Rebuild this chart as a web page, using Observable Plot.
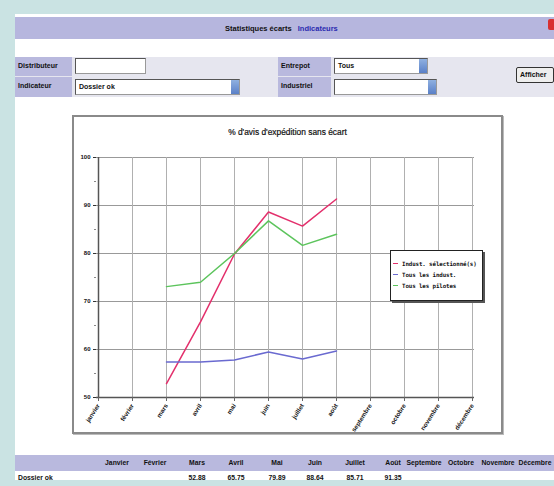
<!DOCTYPE html>
<html><head><meta charset="utf-8">
<script src="https://cdn.jsdelivr.net/npm/d3@7"></script>
<script src="https://cdn.jsdelivr.net/npm/@observablehq/plot@0.6"></script>
<style>
body{margin:0;width:554px;height:486px;background:#cae3e3;overflow:hidden;position:relative;font-family:"Liberation Sans",Arial,sans-serif;font-weight:bold;font-size:7px;color:#111;}
div{box-sizing:border-box;}
.a{position:absolute;}
.lab{background:#b9b9de;padding-left:3px;line-height:18px;}
.inp{background:#fff;border:1px solid #999;border-top-color:#555;border-left-color:#555;line-height:14px;padding-left:3px;font-weight:bold;}
.arr{position:absolute;right:0;top:0;width:8px;height:100%;background:linear-gradient(#8fb0e0,#5a80c8);}
.cell{position:absolute;text-align:center;width:40px;margin-left:-20px;font-size:6.8px;}
.leg{display:flex;align-items:center;height:11px;font-family:"DejaVu Sans Mono",monospace;font-size:5.8px;font-weight:bold;letter-spacing:-0.1px;}
.leg span.k{display:inline-block;width:5px;height:1.5px;margin:0 4px 0 2px;}
</style></head>
<body>
<div id="root"></div>
<script>
// ---- data ----
const months = ["janvier","février","mars","avril","mai","juin","juillet","août","septembre","octobre","novembre","décembre"];
const tableMonths = ["Janvier","Février","Mars","Avril","Mai","Juin","Juillet","Août","Septembre","Octobre","Novembre","Décembre"];
const seriesNames = ["Indust. sélectionné(s)","Tous les indust.","Tous les pilotes"];
const seriesColors = ["#e3306c","#6a6ad0","#5cc45c"];
const selectedIndust = [null,null,52.88,65.75,79.89,88.64,85.71,91.35,null,null,null,null];
const allIndust      = [null,null,57.4,57.4,57.8,59.5,58.0,59.7,null,null,null,null];
const allPilots      = [null,null,73.1,74.0,80.0,86.8,81.7,84.0,null,null,null,null];
const yTicks = [50,60,70,80,90,100];
const yMinor = [55,65,75,85,95];
const indicator = "Dossier ok";
const chartTitle = "% d'avis d'expédition sans écart";

const seriesValues = [selectedIndust, allIndust, allPilots];
const rows = [];
seriesValues.forEach((vals, s) => vals.forEach((v, i) => { if (v != null) rows.push({month: months[i], value: v, series: seriesNames[s]}); }));

const body = document.body;
function el(html){ const t=document.createElement("div"); t.innerHTML=html; const n=t.firstElementChild; body.appendChild(n); return n; }

// page white area
el(`<div class="a" style="left:15px;top:14px;width:539px;height:466px;background:#fff"></div>`);
// title bar
el(`<div class="a" style="left:15px;top:17px;width:539px;height:22px;background:#b6b6de"></div>`);
el(`<div class="a" style="left:225px;top:24px;font-size:7.5px">Statistiques écarts <span style="color:#2a2ab0;margin-left:4px">Indicateurs</span></div>`);
el(`<div class="a" style="left:548px;top:19px;width:7px;height:11px;background:#d83030;border-radius:2px"></div>`);
// form rows
el(`<div class="a" style="left:15px;top:57px;width:539px;height:40px;background:#e6e6ef"></div>`);
el(`<div class="a lab" style="left:15px;top:57px;width:57px;height:19px">Distributeur</div>`);
el(`<div class="a lab" style="left:15px;top:77px;width:57px;height:20px">Indicateur</div>`);
el(`<div class="a inp" style="left:75px;top:58px;width:71px;height:16px"></div>`);
el(`<div class="a inp" style="left:75px;top:79px;width:165px;height:16px">${indicator}<div class="arr"></div></div>`);
el(`<div class="a lab" style="left:278px;top:57px;width:53px;height:19px">Entrepot</div>`);
el(`<div class="a lab" style="left:278px;top:77px;width:53px;height:20px">Industriel</div>`);
el(`<div class="a inp" style="left:334px;top:58px;width:94px;height:16px">Tous<div class="arr"></div></div>`);
el(`<div class="a inp" style="left:334px;top:79px;width:103px;height:16px"><div class="arr"></div></div>`);
el(`<div class="a" style="left:516px;top:67px;width:38px;height:16px;border:1px solid #333;border-radius:2px;background:#eee;line-height:13px;padding-left:3px;font-size:7px">Afficher</div>`);

// chart box
const box = el(`<div class="a" style="left:72px;top:115px;width:431px;height:319px;border:2px solid #8a8a8a;background:#fff;box-shadow:1px 1px 0 #bbb"></div>`);
el(`<div class="a" style="left:72px;top:127px;width:431px;text-align:center;font-size:8.4px;font-weight:normal;color:#111;-webkit-text-stroke:0.2px #111">${chartTitle}</div>`);

const plot = Plot.plot({
  width: 427, height: 315,
  marginLeft: 22, marginRight: 27, marginTop: 40, marginBottom: 35,
  style: {fontFamily: "Liberation Sans, Arial, sans-serif", fontSize: "6px", fontWeight: "bold", background: "transparent", overflow: "visible"},
  x: {type: "point", domain: months, padding: 0},
  y: {domain: [50, 100]},
  color: {domain: seriesNames, range: seriesColors},
  marks: [
    Plot.gridY(yTicks, {stroke: "#999", strokeOpacity: 1, strokeWidth: 1.2}),
    Plot.gridX(months, {stroke: "#b0b0b0", strokeOpacity: 1, strokeWidth: 1}),
    Plot.ruleY([50], {stroke: "#555", strokeWidth: 1.5}),
    Plot.ruleX([months[0]], {stroke: "#555", strokeWidth: 1.5}),
    Plot.axisY(yTicks, {tickSize: 3, tickPadding: 3, label: null, stroke: "#333", fill: "#111"}),
    Plot.axisY(yMinor, {tickSize: 2, text: null, label: null, stroke: "#888"}),
    Plot.axisX(months, {tickSize: 4, tickRotate: -57, tickPadding: 3, label: null, stroke: "#666", fill: "#111", fontSize: 6.3}),
    Plot.line(rows, {x: "month", y: "value", z: "series", stroke: "series", strokeWidth: 1.5})
  ]
});
plot.style.position = "absolute";
plot.style.left = "0px";
plot.style.top = "0px";
box.appendChild(plot);

// legend
const leg = el(`<div class="a" style="left:390px;top:250px;width:93px;height:51px;border:1.5px solid #222;background:#fff;box-shadow:2px 2px 0 #555;padding-top:7px"></div>`);
seriesNames.forEach((n, i) => {
  const d = document.createElement("div");
  d.className = "leg";
  d.innerHTML = `<span class="k" style="background:${seriesColors[i]}"></span>${n}`;
  leg.appendChild(d);
});

// table
el(`<div class="a" style="left:15px;top:455px;width:539px;height:16px;background:#b9b9de"></div>`);
const colX = [117,155,197,236,277,315,355,393,424,461,498,535];
tableMonths.forEach((m, i) => el(`<div class="cell" style="left:${colX[i]}px;top:459px">${m}</div>`));
el(`<div class="a" style="left:18px;top:474px;font-size:6.8px">${indicator}</div>`);
selectedIndust.forEach((v, i) => { if (v != null) el(`<div class="cell" style="left:${colX[i]}px;top:474px">${v.toFixed(2)}</div>`); });
</script>
</body></html>
